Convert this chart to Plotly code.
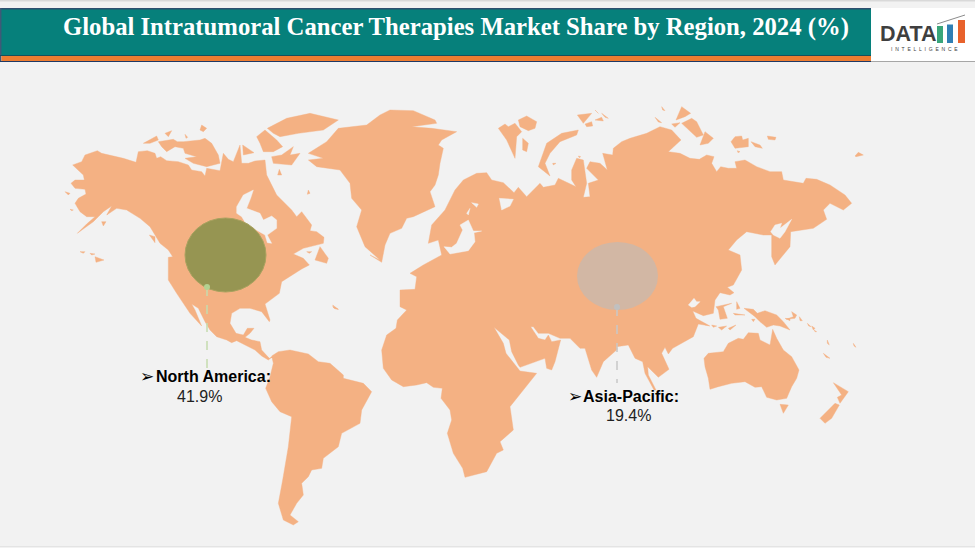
import plotly.graph_objects as go

# outlines, each list in its crop's 3x coordinates
title = "Global Intratumoral Cancer Therapies Market Share by Region, 2024 (%)"
regions = ["North America:", "Asia-Pacific:"]
shares = ["41.9%", "19.4%"]

na_north = [(38,195),(65,185),(75,165),(112,152),(125,160),(150,165),(190,175),(228,187),(235,155),(262,152),(285,160),(290,175),(302,170),(320,182),(355,185),(385,195),(395,210),(425,215),(435,228),(440,205),(470,210),(480,212),(490,160),(505,178),(520,185),(540,135),(545,190),(565,190),(585,183),(615,180),(620,225),(635,255),(650,285),(695,330),(710,350),(725,335),(755,375),(750,392),(770,395),(792,412),(790,430),(730,445),(700,462),(730,475),(748,495),(725,507),(690,530),(665,545),(658,580),(615,612),(630,660)]
na_south = [(418,125),(395,95),(360,85),(330,85),(305,100),(300,130),(318,160),(340,165),(352,145),(372,145),(360,160),(345,172),(365,180),(390,185),(395,210),(418,235),(430,228),(415,240),(395,228),(375,210),(345,195),(320,182),(305,188),(290,180),(260,170),(240,150),(225,125),(205,85),(185,72),(195,90),(215,138),(180,100),(140,40),(115,0)]
na_west = [(325,530),(325,472),(338,470),(325,450),(300,430),(285,405),(270,380),(240,355),(200,330),(170,325),(140,345),(155,318),(130,335),(100,365),(52,400),(80,372),(105,350),(80,350),(60,335),(45,310),(55,295),(78,282),(75,268),(45,265),(33,250),(45,240),(73,240),(70,225),(50,205)]
south_america = [(425,228),(445,215),(480,210),(535,222),(565,245),(600,250),(640,285),(640,295),(700,310),(725,335),(695,390),(690,430),(635,460),(625,500),(580,535),(575,565),(545,570),(535,590),(515,610),(520,645),(500,670),(480,705),(505,725),(490,735),(460,720),(445,670),(458,600),(475,500),(485,410),(450,395),(425,365),(407,325),(420,290),(430,250)]

na_islands = [
    [(250,130),(290,108),(295,120),(270,130)],
    [(315,100),(335,92),(325,110)],
    [(295,125),(340,118),(352,125),(370,125),(420,120),(435,115),(455,130),(475,165),(480,190),(440,200),(400,190),(375,175),(410,170),(375,160),(370,145),(345,140),(320,155),(305,140)],
    [(590,110),(615,90),(650,120),(668,140),(640,155),(610,155),(600,130)],
    [(622,85),(680,55),(750,40),(835,60),(790,90),(715,100),(660,110),(640,100)],
    [(635,170),(665,165),(700,140),(690,165),(720,160),(695,195),(640,190)],
    [(548,135),(582,158),(550,165)],
    [(425,75),(440,85),(430,95),(420,90)],
    [(375,103),(383,112),(378,115)],
    [(60,455),(75,455),(70,460)],
    [(90,460),(105,462),(95,465)],
    [(105,470),(132,480),(108,487)],
    [(15,275),(30,280),(25,285)],
    [(30,328),(40,330),(35,332)],
    [(125,365),(138,365),(130,378)],
    [(268,405),(285,410),(285,428)],
    [(765,480),(780,440),(805,475),(800,490)],
    [(740,455),(755,455),(748,460)],
    [(818,620),(835,628),(825,626)],
    [(658,208),(665,225),(653,225)],
    [(745,270),(750,280),(742,283)],
]
hudson_bay = [(530,320),(550,285),(580,270),(572,295),(560,325),(600,340),(610,360),(635,348),(650,360),(650,385),(622,405),(635,430),(622,428),(615,405),(580,385),(560,375),(545,350),(530,340)]

greenland_a = [(960,480),(915,440),(890,380),(905,330),(875,295),(870,250),(840,210),(770,200),(745,180),(790,175),(745,160),(800,125),(835,85),(920,75),(960,45)]
greenland_b = [(60,30),(130,32),(195,60),(200,70),(125,80),(185,85),(260,95),(215,120),(205,135),(220,145),(210,190),(205,225),(195,255),(180,275),(195,320),(130,350),(110,355),(95,385),(60,400),(45,435),(35,487),(0,465)]

africa_asia = [(90,0),(90,50),(110,60),(82,90),(78,115),(50,135),(35,180),(40,235),(65,270),(100,290),(140,285),(170,278),(190,292),(217,295),(213,325),(240,360),(245,390),(232,430),(250,490),(278,535),(285,562),(350,545),(380,490),(400,480),(390,455),(430,420),(420,350),(460,300),(500,250),(450,243),(408,190),(400,160),(372,112),(418,150),(425,185),(445,225),(450,232),(525,205),(530,235),(545,240),(555,215),(572,150),(545,155),(535,135),(525,150),(505,145),(482,110),(490,110),(505,130),(535,130),(570,145),(600,145),(630,175),(645,175),(665,240),(680,262),(700,215),(742,178)]
se_asia = [(50,170),(85,165),(105,205),(128,215),(135,250),(162,300),(168,300),(145,255),(143,230),(175,262),(207,238),(185,190),(195,172),(205,192),(218,175),(280,140),(292,110)]
china_coast = [(85,222),(120,228),(78,205),(68,183),(100,197),(130,190),(135,150),(150,128),(180,135),(192,128),(172,112),(190,105),(215,60),(210,15),(175,0)]
siberia = [(385,450),(410,420),(440,395),(490,405),(515,405),(515,470),(525,495),(570,440),(572,395),(640,385),(680,358),(670,330),(690,310),(730,330),(755,310),(735,285),(690,255),(650,238),(618,235),(610,250),(550,240),(545,215),(510,215),(470,200),(435,180),(405,185),(410,205),(385,205),(362,200),(350,215),(335,190),(342,170),(320,165),(298,178),(270,175),(240,160),(205,155),(243,120),(215,90),(180,80),(140,100),(90,115),(65,125),(40,145),(38,165),(8,160),(22,210),(0,190)]
north_europe = [(660,185),(650,205),(685,240),(655,250),(660,290),(640,292),(650,250),(640,180),(620,175),(605,210),(605,240),(618,260),(565,235),(555,255),(520,262),(510,250),(490,270),(470,290),(445,262),(432,278),(400,248),(365,240),(350,218),(320,220),(280,240),(255,270),(225,330),(185,375),(175,430),(205,420),(215,465),(160,495),(120,520),(140,530),(135,568),(90,570)]

arctic_west = [
    [(385,85),(405,72),(415,80),(435,70),(455,95),(440,110),(435,175),(410,120)],
    [(445,60),(470,48),(500,65),(495,85),(475,92),(450,80)],
    [(458,115),(475,130),(470,155),(458,150)],
    [(505,200),(530,130),(575,100),(625,90),(620,105),(570,125),(540,160),(525,190),(540,228)],
    [(622,45),(665,40),(640,70)],
    [(645,72),(665,65),(668,78),(650,80)],
    [(675,60),(695,52),(700,63)],
    [(695,40),(715,55),(705,52)],
    [(675,30),(685,40),(680,38)],
    [(548,190),(558,190),(550,195)],
    [(625,168),(632,170),(628,173)],
]
arctic_east = [
    [(228,60),(245,20),(272,40),(255,50)],
    [(245,70),(275,55),(290,65),(310,105),(290,112)],
    [(315,95),(340,115),(325,130),(300,135)],
    [(215,72),(240,68),(225,82)],
    [(165,52),(185,68),(175,66)],
    [(185,20),(195,32),(188,30)],
    [(393,125),(405,110),(425,108),(428,120),(445,115),(445,140),(405,145)],
    [(453,125),(480,135),(487,145),(465,140)],
    [(502,108),(528,112),(525,120),(505,118)],
    [(412,152),(420,155),(414,158)],
    [(765,168),(775,157),(790,165),(768,170)],
]
east_islands = [
    [(138,170),(185,160),(160,170),(172,205),(150,208),(145,180)],
    [(200,155),(210,175),(200,178)],
    [(190,190),(225,195),(195,195)],
    [(125,225),(140,228),(130,232)],
    [(145,232),(170,228),(155,240)],
    [(175,235),(198,225),(180,240)],
    [(222,175),(250,178),(262,190),(285,182),(320,195),(340,215),(360,240),(330,228),(310,225),(290,232),(270,215),(255,200)],
    [(245,208),(255,208),(250,215)],
    [(345,205),(360,207),(360,212)],
]
pacific_islands = [
    [(125,65),(140,75),(135,85),(108,88),(130,80)],
    [(148,80),(157,92),(150,92)],
    [(172,100),(183,110),(176,108)],
    [(185,108),(195,115),(190,120)],
    [(192,120),(200,125),(195,125)],
    [(232,150),(238,165),(232,160)],
    [(220,190),(240,205),(228,202)],
    [(310,160),(318,172),(312,168)],
]
australia = [(312,205),(325,190),(370,185),(385,160),(415,145),(430,148),(445,128),(475,130),(480,150),(510,165),(518,118),(530,145),(550,180),(575,200),(597,240),(590,265),(575,290),(560,325),(530,330),(500,322),(485,290),(465,292),(435,275),(395,280),(355,290),(330,298),(325,265),(315,230)]
oceania = [
    [(540,343),(565,345),(550,370)],
    [(700,278),(745,305),(720,340),(712,322),(725,315)],
    [(705,340),(718,345),(695,385),(675,400),(660,385)],
]
caribbean = [(608,75),(625,88),(612,85)]

okhotsk = [(512,395),(525,375),(545,370),(540,385),(575,358),(555,395),(540,415),(520,405)]
white_sea = [(388,295),(430,298),(420,318),(395,330)]
baltic = [(222,440),(240,462),(295,452),(315,425),(312,398),(335,393),(310,393),(295,360),(270,375),(278,390),(260,430),(245,442)]
lakes_europe = [[(290,340),(300,325),(295,345)], [(305,308),(325,312),(320,322)]]
yellow_sea = [(55,165),(72,145),(80,155),(90,155),(75,170),(65,172)]


def crop(ox, oy, pts):
    return [(ox + a / 3, oy + b / 3) for a, b in pts]


Z2 = (60, 100)
Z3 = (130, 280)
Z4 = (370, 100)
Z5 = (600, 100)
Z6 = (370, 290)
Z7 = (600, 290)
Z8 = (670, 250)
Z9 = (750, 290)

land = [
    crop(*Z2, na_north) + crop(*Z3, na_south) + crop(*Z2, na_west),
    crop(*Z3, south_america),
    crop(*Z2, greenland_a) + crop(*Z4, greenland_b),
    crop(*Z6, africa_asia) + crop(*Z7, se_asia) + crop(*Z8, china_coast) + crop(*Z5, siberia) + crop(*Z4, north_europe),
    crop(*Z7, australia),
    crop(*Z3, caribbean),
]
land += [crop(*Z2, p) for p in na_islands]
land += [crop(*Z4, p) for p in arctic_west]
land += [crop(*Z5, p) for p in arctic_east]
land += [crop(*Z8, p) for p in east_islands]
land += [crop(*Z9, p) for p in pacific_islands]
land += [crop(*Z7, p) for p in oceania]

water = [crop(*Z2, hudson_bay), crop(*Z5, okhotsk), crop(*Z4, white_sea), crop(*Z4, baltic), crop(*Z8, yellow_sea)]
water += [crop(*Z4, p) for p in lakes_europe]


def add_polys(fig, polys, color):
    xs, ys = [], []
    for p in polys:
        xs += [q[0] for q in p] + [p[0][0], None]
        ys += [q[1] for q in p] + [p[0][1], None]
    fig.add_trace(go.Scatter(x=xs, y=ys, mode="lines", fill="toself", fillcolor=color,
                             line=dict(width=0.4, color=color), hoverinfo="skip", showlegend=False))


BG = "#f2f2f2"
LAND = "#f4b183"
fig = go.Figure()
add_polys(fig, land, LAND)
add_polys(fig, water, BG)

shapes = [
    # page edges
    dict(type="rect", x0=0, x1=975, y0=0, y1=1.5, fillcolor="#d9d9d9", line_width=0, layer="below"),
    dict(type="rect", x0=0, x1=975, y0=546, y1=547, fillcolor="#e4e4e4", line_width=0, layer="below"),
    # title band
    dict(type="rect", x0=0, x1=871, y0=8, y1=55, fillcolor="#06807b", line_width=0),
    dict(type="line", x0=0, x1=871, y0=8.7, y1=8.7, line=dict(color="#2f4f6f", width=1.5)),
    dict(type="line", x0=0.7, x1=0.7, y0=8, y1=62, line=dict(color="#3f5a78", width=1.5)),
    dict(type="line", x0=0, x1=871, y0=55.5, y1=55.5, line=dict(color="#17505c", width=1)),
    dict(type="rect", x0=1.5, x1=871, y0=56, y1=61, fillcolor="#ed7d31", line_width=0),
    dict(type="line", x0=0, x1=871, y0=61.5, y1=61.5, line=dict(color="#1f3864", width=1)),
    # logo box
    dict(type="rect", x0=871, x1=975, y0=8, y1=61, fillcolor="#ffffff", line_width=0),
    dict(type="line", x0=871, x1=975, y0=61.5, y1=61.5, line=dict(color="#a6a6a6", width=1)),
    dict(type="rect", x0=937, x1=943, y0=26, y1=43, fillcolor="#3aa67a", line_width=0),
    dict(type="rect", x0=947, x1=953, y0=24.5, y1=43, fillcolor="#2f7fb5", line_width=0),
    dict(type="rect", x0=958, x1=965, y0=20, y1=43, fillcolor="#e8622c", line_width=0),
    dict(type="line", x0=937, x1=965, y0=24, y1=15, line=dict(color="#8c8c8c", width=1)),
    # bubbles
    dict(type="circle", x0=185, x1=266, y0=218, y1=292, fillcolor="#969552", line=dict(color="#a9a25f", width=1)),
    dict(type="circle", x0=577, x1=658, y0=242, y1=310, fillcolor="#d2b7a4", line_width=0),
    # leaders
    dict(type="line", x0=207, x1=207, y0=287, y1=369, line=dict(color="#c5dcae", width=1.5, dash="dash")),
    dict(type="circle", x0=204, x1=210, y0=284, y1=290, fillcolor="#b4d191", line_width=0),
    dict(type="line", x0=617, x1=617, y0=307, y1=383, line=dict(color="#c8c8c8", width=1.5, dash="dash")),
    dict(type="circle", x0=614, x1=620, y0=304, y1=310, fillcolor="#c0c0c0", line_width=0),
]

LBL = "Liberation Sans"
SP = "\u00a0"
notes = [
    dict(x=455.5, y=27, text="<b>" + title + "</b>", font=dict(family="Liberation Serif", size=24.7, color="#ffffff")),
    dict(x=908, y=34, text="<b>DATA</b>", font=dict(family="Liberation Sans", size=21.5, color="#3f3f3f")),
    dict(x=924, y=49, text=(SP * 2).join("INTELLIGENCE"), font=dict(family="Liberation Sans", size=5, color="#404040")),
    dict(x=147, y=376, text="➢", font=dict(family="DejaVu Sans", size=17, color="#000000")),
    dict(x=213, y=376, text="<b>" + regions[0] + "</b>", font=dict(family=LBL, size=16, color="#000000")),
    dict(x=199.5, y=396, text=shares[0], font=dict(family=LBL, size=16, color="#222222")),
    dict(x=575, y=396, text="➢", font=dict(family="DejaVu Sans", size=17, color="#000000")),
    dict(x=631, y=396, text="<b>" + regions[1] + "</b>", font=dict(family=LBL, size=16, color="#000000")),
    dict(x=628.5, y=415, text=shares[1], font=dict(family=LBL, size=16, color="#222222")),
]
for n in notes:
    fig.add_annotation(xref="x", yref="y", showarrow=False, xanchor="center", yanchor="middle", **n)

fig.update_layout(
    width=975, height=548, margin=dict(l=0, r=0, t=0, b=0),
    paper_bgcolor=BG, plot_bgcolor=BG, shapes=shapes, showlegend=False,
    xaxis=dict(range=[0, 975], visible=False, fixedrange=True),
    yaxis=dict(range=[548, 0], visible=False, fixedrange=True),
)
fig.write_html("out.html", config={"displayModeBar": False},
               post_script="document.body.style.margin='0';document.body.style.overflow='hidden';")
